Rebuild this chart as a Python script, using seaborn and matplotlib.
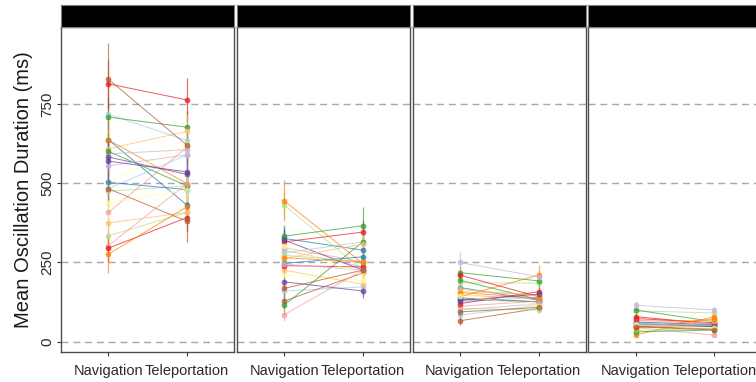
import numpy as np
import pandas as pd
import matplotlib
matplotlib.use("Agg")
import matplotlib.pyplot as plt
import seaborn as sns

# --- data ---
conditions = ["Navigation", "Teleportation"]
participants = [f"P{i:02d}" for i in range(1, 25)]

p1_nav = [718, 638, 475, 709, 408, 814, 609, 637, 593, 583, 503, 829,
          483, 503, 334, 601, 303, 295, 375, 276, 555, 570, 439, 483]
p1_tele = [635, 431, 492, 677, 614, 763, 664, 499, 606, 528, 623, 620,
           590, 480, 408, 492, 499, 392, 408, 426, 590, 536, 480, 380]
p1_nav_se = [70, 80, 55, 60, 50, 75, 60, 65, 55, 60, 55, 115,
             50, 60, 45, 55, 50, 45, 50, 60, 55, 60, 50, 55]
p1_tele_se = [55, 60, 45, 50, 55, 70, 55, 50, 50, 55, 50, 55,
              50, 45, 45, 50, 50, 45, 45, 50, 50, 50, 45, 65]

p2_nav = [160, 326, 431, 333, 297, 315, 226, 445, 289, 321, 210, 128,
          280, 247, 273, 115, 85, 240, 263, 265, 245, 189, 302, 168]
p2_tele = [173, 289, 226, 366, 252, 346, 181, 247, 236, 226, 194, 217,
           315, 268, 252, 315, 226, 236, 308, 252, 226, 160, 210, 226]
p2_nav_se = [30, 35, 40, 35, 30, 35, 30, 65, 30, 35, 30, 25,
             30, 30, 30, 30, 20, 30, 30, 30, 30, 30, 35, 25]
p2_tele_se = [25, 30, 30, 58, 30, 35, 25, 30, 30, 30, 25, 25,
              30, 30, 30, 30, 25, 30, 30, 30, 25, 21, 25, 25]

p3_nav = [84, 171, 186, 218, 147, 210, 158, 142, 250, 133, 150, 66,
          126, 138, 105, 194, 112, 120, 165, 155, 100, 130, 145, 94]
p3_tele = [115, 131, 185, 192, 136, 142, 149, 210, 205, 126, 118, 105,
           140, 126, 100, 133, 128, 158, 145, 138, 120, 150, 112, 108]
p3_nav_se = [15, 20, 20, 20, 15, 20, 15, 15, 33, 15, 15, 14,
             15, 15, 15, 20, 15, 15, 15, 15, 15, 15, 15, 15]
p3_tele_se = [12, 15, 18, 18, 15, 15, 15, 31, 20, 15, 12, 11,
              15, 15, 11, 15, 15, 15, 15, 15, 12, 15, 12, 12]

p4_nav = [52, 58, 97, 100, 45, 79, 65, 21, 115, 55, 42, 48,
          60, 62, 35, 31, 68, 73, 39, 44, 57, 50, 53, 47]
p4_tele = [49, 47, 91, 63, 21, 56, 68, 79, 100, 52, 45, 40,
           56, 54, 42, 37, 58, 60, 65, 72, 50, 48, 44, 37]
p4_nav_se = [8, 8, 10, 10, 8, 10, 8, 7, 12, 8, 8, 8,
             8, 8, 7, 7, 8, 8, 7, 8, 8, 8, 8, 8]
p4_tele_se = [7, 7, 9, 9, 7, 8, 8, 9, 10, 7, 7, 7,
              7, 7, 7, 7, 7, 8, 8, 8, 7, 7, 7, 7]

panels = [
    (p1_nav, p1_tele, p1_nav_se, p1_tele_se),
    (p2_nav, p2_tele, p2_nav_se, p2_tele_se),
    (p3_nav, p3_tele, p3_nav_se, p3_tele_se),
    (p4_nav, p4_tele, p4_nav_se, p4_tele_se),
]

rows = []
for k, (nav, tele, nav_se, tele_se) in enumerate(panels):
    for i, pid in enumerate(participants):
        rows.append((k, pid, conditions[0], nav[i], nav_se[i]))
        rows.append((k, pid, conditions[1], tele[i], tele_se[i]))
df = pd.DataFrame(rows, columns=["panel", "pid", "condition", "mean", "se"])

sns.set_theme(style="white")
plt.rcParams["font.family"] = ["Liberation Sans", "DejaVu Sans"]

pal = sns.color_palette("Paired", 12) * 2
pal_map = dict(zip(participants, pal))

W, H = 756, 382
fig = plt.figure(figsize=(W / 100, H / 100), dpi=100)

panel_w = 173.3
step = 175.8
top_px, bot_px = 26.7, 351.7
strip_top = 5.0

ylo, yhi = -31.6, 994.3

for k in range(4):
    x0 = 61 + k * step
    ax = fig.add_axes([x0 / W, (H - bot_px) / H, panel_w / W, (bot_px - top_px) / H])
    sub = df[df["panel"] == k]

    for v in [0, 250, 500, 750]:
        ax.axhline(v, color="#a8a8a8", lw=1.0, ls=(0, (5, 3.5)), zorder=0)

    sns.pointplot(data=sub, x="condition", y="mean", hue="pid", order=conditions,
                  hue_order=participants, palette=pal_map, errorbar=None,
                  markers="o", markersize=3.6, linewidth=0.7, dodge=False,
                  legend=False, ax=ax, alpha=0.72)

    for pid in participants:
        d = sub[sub["pid"] == pid].set_index("condition").loc[conditions]
        ax.vlines([0, 1], d["mean"] - d["se"], d["mean"] + d["se"],
                  colors=[pal_map[pid]], lw=0.9, alpha=0.65, zorder=1)

    ax.set_xlim(-0.6, 1.6)
    ax.set_ylim(ylo, yhi)
    ax.set_xlabel("")
    ax.set_ylabel("")
    ax.set_yticks([0, 250, 500, 750])
    ax.tick_params(axis="x", length=3, width=0.8, color="#333333", pad=6,
                   labelsize=10.5, labelcolor="#2b2b2b", bottom=True)
    if k == 0:
        ax.tick_params(axis="y", length=3, width=0.8, color="#333333", pad=2,
                       labelsize=11, labelcolor="#2b2b2b", left=True)
        for lab in ax.get_yticklabels():
            lab.set_rotation(90)
            lab.set_va("center")
        ax.set_ylabel("Mean Oscillation Duration (ms)", fontsize=14.5,
                      color="#1a1a1a", labelpad=5)
    else:
        ax.tick_params(axis="y", left=False, labelleft=False)
    for s in ax.spines.values():
        s.set_color("#4d4d4d")
        s.set_linewidth(1.0)

    # black facet strip
    sax = fig.add_axes([x0 / W, (H - top_px) / H, panel_w / W, (top_px - strip_top) / H])
    sax.set_facecolor("black")
    sax.set_xticks([])
    sax.set_yticks([])
    for s in sax.spines.values():
        s.set_color("#7f7f7f")
        s.set_linewidth(0.8)

fig.savefig("out.png", dpi=100)
